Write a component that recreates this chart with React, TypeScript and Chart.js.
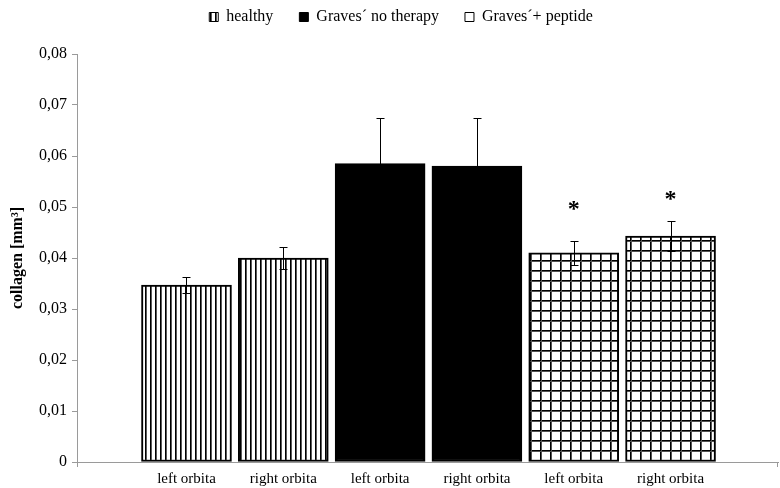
import React, { useEffect, useRef } from 'react';
import { Chart, registerables } from 'chart.js';

Chart.register(...registerables);

// ---- data ----
const categories = ['left orbita', 'right orbita', 'left orbita', 'right orbita', 'left orbita', 'right orbita'];
const groupNames = ['healthy', 'Graves´ no therapy', 'Graves´+ peptide'];
const healthyPositions = [0, 1];
const gravesPositions = [2, 3];
const peptidePositions = [4, 5];
const healthyValues = [0.0347, 0.04];
const gravesValues = [0.0585, 0.058];
const peptideValues = [0.041, 0.0443];
const healthyErrors = [0.0016, 0.0022];
const gravesErrors = [0.0089, 0.0095];
const peptideErrors = [0.0023, 0.003];
const starLevels = [null, null, null, null, 0.0508, 0.0527];
const yTickValues = [0, 0.01, 0.02, 0.03, 0.04, 0.05, 0.06, 0.07, 0.08];
const yTitle = 'collagen [mm³]';

const FONT = "'Liberation Serif', 'Times New Roman', serif";
const AXIS_GREY = '#9a9a9a';

function makeStripePattern(): CanvasPattern | string {
  const c = document.createElement('canvas');
  c.width = 5;
  c.height = 5;
  const g = c.getContext('2d');
  if (!g) return '#fff';
  g.fillStyle = '#fff';
  g.fillRect(0, 0, 5, 5);
  g.fillStyle = '#000';
  g.fillRect(0, 0, 1, 5);
  g.fillStyle = '#5a5a5a';
  g.fillRect(1, 0, 1, 5);
  return g.createPattern(c, 'repeat') || '#fff';
}

function makeGridPattern(): CanvasPattern | string {
  const c = document.createElement('canvas');
  c.width = 10;
  c.height = 10;
  const g = c.getContext('2d');
  if (!g) return '#fff';
  g.fillStyle = '#fff';
  g.fillRect(0, 0, 10, 10);
  g.fillStyle = '#000';
  g.fillRect(0, 0, 1, 10);
  g.fillRect(0, 0, 10, 1);
  g.fillStyle = '#555';
  g.fillRect(1, 0, 1, 10);
  g.fillRect(0, 1, 10, 1);
  return g.createPattern(c, 'repeat') || '#fff';
}

const errorBarPlugin = {
  id: 'errorBars',
  afterDatasetsDraw(chart: any) {
    const ctx = chart.ctx;
    const yScale = chart.scales.y;
    const allErrors = [healthyErrors, gravesErrors, peptideErrors];
    const allValues = [healthyValues, gravesValues, peptideValues];
    ctx.save();
    ctx.strokeStyle = '#000';
    ctx.lineWidth = 1;
    chart.data.datasets.forEach((_ds: any, di: number) => {
      const meta = chart.getDatasetMeta(di);
      meta.data.forEach((el: any, i: number) => {
        const v = allValues[di][i];
        const e = allErrors[di][i];
        const x = Math.round(el.x) + 0.5;
        const yTop = Math.round(yScale.getPixelForValue(v + e)) + 0.5;
        const yBot = Math.round(yScale.getPixelForValue(v - e)) + 0.5;
        ctx.beginPath();
        ctx.moveTo(x, yTop);
        ctx.lineTo(x, yBot);
        ctx.moveTo(x - 4, yTop);
        ctx.lineTo(x + 4, yTop);
        ctx.moveTo(x - 4, yBot);
        ctx.lineTo(x + 4, yBot);
        ctx.stroke();
      });
    });
    // significance stars
    const xScale = chart.scales.x;
    ctx.fillStyle = '#000';
    ctx.font = `bold 24px ${FONT}`;
    ctx.textAlign = 'center';
    ctx.textBaseline = 'alphabetic';
    starLevels.forEach((lvl, i) => {
      if (lvl === null) return;
      const x = xScale.getPixelForValue(i);
      const y = yScale.getPixelForValue(lvl);
      ctx.fillText('*', x, y + 13);
    });
    // end ticks of the x axis
    const area = chart.chartArea;
    ctx.strokeStyle = AXIS_GREY;
    ctx.beginPath();
    ctx.moveTo(area.left + 0.5, area.bottom);
    ctx.lineTo(area.left + 0.5, area.bottom + 5);
    ctx.moveTo(area.right - 0.5, area.bottom);
    ctx.lineTo(area.right - 0.5, area.bottom + 5);
    ctx.stroke();
    ctx.restore();
  },
};

const legendShiftPlugin = {
  id: 'legendShift',
  afterLayout(chart: any) {
    const l = chart.legend;
    if (l) {
      l.top -= 19;
      l.bottom -= 19;
      l.left += 10;
      l.right += 10;
    }
  },
};

export default function App() {
  const canvasRef = useRef<HTMLCanvasElement | null>(null);

  useEffect(() => {
    const canvas = canvasRef.current;
    if (!canvas) return;
    const stripe = makeStripePattern();
    const grid = makeGridPattern();
    const fills = [stripe, '#000', grid];
    const legendFills = [stripe, '#000', '#fff'];
    const positions = [healthyPositions, gravesPositions, peptidePositions];
    const values = [healthyValues, gravesValues, peptideValues];

    const chart = new Chart(canvas, {
      type: 'bar',
      data: {
        datasets: groupNames.map((name, gi) => ({
          label: name,
          data: values[gi].map((v, i) => ({ x: positions[gi][i], y: v })),
          backgroundColor: fills[gi] as any,
          borderColor: '#000',
          borderWidth: 2,
          borderSkipped: false,
          barThickness: 90,
          grouped: false,
        })),
      },
      options: {
        animation: false,
        responsive: true,
        maintainAspectRatio: false,
        layout: { padding: { top: 2, left: 4, right: 2, bottom: 0 } },
        plugins: {
          tooltip: { enabled: false },
          legend: {
            position: 'top',
            labels: {
              color: '#000',
              font: { family: FONT, size: 16 },
              boxWidth: 9,
              boxHeight: 9,
              padding: 26,
              generateLabels: () =>
                groupNames.map((g, i) => ({
                  text: g,
                  fillStyle: legendFills[i] as any,
                  strokeStyle: '#000',
                  lineWidth: 1,
                  hidden: false,
                  datasetIndex: i,
                  fontColor: '#000',
                })),
            },
          },
        },
        scales: {
          x: {
            type: 'linear',
            offset: false,
            min: -1.131,
            max: 6.11,
            grid: { display: false, drawTicks: false, offset: false },
            border: { color: AXIS_GREY, width: 1 },
            afterBuildTicks: (scale: any) => {
              scale.ticks = categories.map((_c, i) => ({ value: i }));
            },
            afterFit: (scale: any) => {
              scale.height = 26;
            },
            ticks: {
              autoSkip: false,
              maxRotation: 0,
              padding: 8,
              color: '#000',
              font: { family: FONT, size: 15 },
              callback: (_v: any, idx: number) => categories[idx],
            },
          },
          y: {
            min: 0,
            max: 0.08,
            afterBuildTicks: (scale: any) => {
              scale.ticks = yTickValues.map((v) => ({ value: v }));
            },
            afterFit: (scale: any) => {
              scale.width = 73;
            },
            grid: {
              drawOnChartArea: false,
              drawTicks: true,
              tickLength: 5,
              color: AXIS_GREY,
            },
            border: { color: AXIS_GREY, width: 1 },
            ticks: {
              padding: 5,
              color: '#000',
              font: { family: FONT, size: 16 },
              callback: (v: any) => (v === 0 ? '0' : Number(v).toFixed(2).replace('.', ',')),
            },
            title: {
              display: true,
              text: yTitle,
              color: '#000',
              font: { family: FONT, size: 16, weight: 'bold' },
              padding: { top: 4, bottom: 4 },
            },
          },
        },
      },
      plugins: [errorBarPlugin, legendShiftPlugin],
    } as any);

    return () => chart.destroy();
  }, []);

  return (
    <div style={{ position: 'fixed', left: 0, top: 0, width: 780, height: 488, background: '#fff' }}>
      <canvas ref={canvasRef} />
    </div>
  );
}
